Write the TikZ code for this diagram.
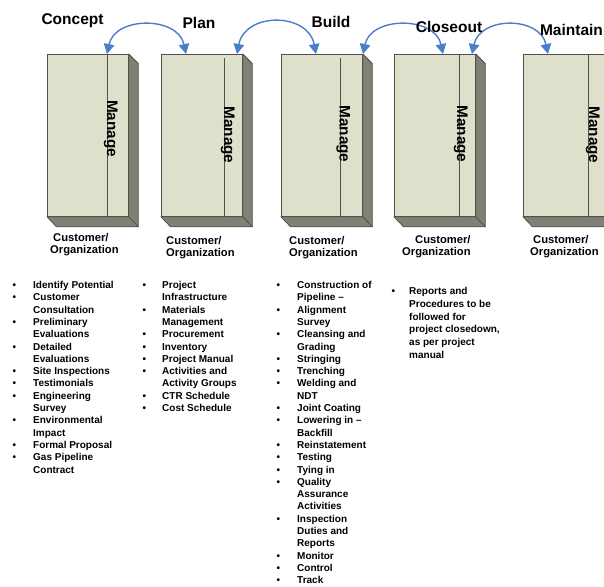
\documentclass[tikz,border=0pt]{standalone}
\usepackage{fontspec}
\setmainfont{Liberation Sans}
\usetikzlibrary{arrows.meta,calc}

\definecolor{facefill}{HTML}{DEE0CB}
\definecolor{sidefill}{HTML}{7F8175}
\definecolor{edgeline}{HTML}{50524A}
\definecolor{arcblue}{HTML}{4A7EC8}

\newcommand\stagefont{\fontsize{15.5}{18}\selectfont\bfseries}
\newcommand\managefont{\fontsize{15.3}{18}\selectfont\bfseries}
\newcommand\orgfont{\fontsize{11.2}{12}\selectfont\bfseries}
\newcommand\listfont{\fontsize{10}{12.3}\selectfont\bfseries}

\begin{document}
\begin{tikzpicture}[x=1pt,y=-1pt,
  frontface/.style={rectangle,draw=edgeline,fill=facefill,line width=0.8pt,
    inner sep=0pt,minimum width=81pt,minimum height=162pt,anchor=north west},
  sideface/.style={fill=sidefill,draw=edgeline,line width=0.8pt,line join=round},
  divider/.style={draw=edgeline,line width=0.8pt},
  managelabel/.style={font=\managefont,rotate=-90,anchor=base,inner sep=0pt},
  stagetitle/.style={font=\stagefont,anchor=base,inner sep=0pt},
  orglabel/.style={font=\orgfont,anchor=base west,inner sep=0pt},
  tasklist/.style={font=\listfont,anchor=base west,inner sep=0pt},
  linkarc/.style={draw=arcblue,line width=1.4pt,
    {Triangle[width=10.5pt,length=10pt]}-{Triangle[width=10.5pt,length=10pt]}}
]
\useasboundingbox (0,0) rectangle (604,586);
\clip (0,0) rectangle (604,586);

% stage boxes: front face, shaded right and bottom faces, divider, "Manage" strip
\foreach \n/\x/\dv/\dt/\mx/\my in {1/47/21/0/107/128.5, 2/161/18/4/224/135,
    3/281/22/4/339.5/134, 4/394/16/0/457/134, 5/523/16/0/589/135}{
  \node[frontface] (b\n) at (\x,54) {};
  \filldraw[sideface] (b\n.north east) -- ++(9.5,9.5)
    -- ($(b\n.south east)+(9.5,10)$) -- ($(b\n.south west)+(9.5,10)$)
    -- (b\n.south west) -- (b\n.south east) -- cycle;
  \draw[sideface] (b\n.south east) -- ++(9.5,10);
  \draw[divider] ($(b\n.north east)+(-\dv,\dt)$) -- ($(b\n.south east)+(-\dv,0)$);
  \node[managelabel] (m\n) at (\mx,\my) {Manage};
}

% arc end points on the box tops
\coordinate (e1) at ($(b1.north west)+(60,0)$);
\coordinate (e2) at ($(b2.north west)+(25,0)$);
\coordinate (e3) at ($(b2.north west)+(76,0)$);
\coordinate (e4) at ($(b3.north west)+(35,0)$);
\coordinate (e5) at ($(b3.north west)+(82,0)$);
\coordinate (e6) at ($(b4.north west)+(49,0)$);
\coordinate (e7) at ($(b4.north west)+(78,0)$);
\coordinate (e8) at ($(b5.north west)+(25,0)$);

\draw[linkarc] (e1) .. controls +(8,-38) and +(-8,-38) .. (e2);
\draw[linkarc] (e3) .. controls +(8,-42) and +(-8,-42) .. (e4);
\draw[linkarc] (e5) .. controls +(8,-38) and +(-8,-38) .. (e6);
\draw[linkarc] (e7) .. controls +(8,-38) and +(-8,-38) .. (e8);

% stage titles
\node[stagetitle] (t1) at (72.5,25) {Concept};
\node[stagetitle] (t2) at (199,29) {Plan};
\node[stagetitle] (t3) at (331,28) {Build};
\node[stagetitle] (t4) at (449,33) {Closeout};
\node[stagetitle] (t5) at (571.5,36) {Maintain};

% owner labels under the boxes
\node[orglabel] (c1) at (50,241) {\begin{tabular}[t]{@{}l@{}}\hspace*{3pt}Customer/\\Organization\end{tabular}};
\node[orglabel] (c2) at (166,244) {\begin{tabular}[t]{@{}l@{}}Customer/\\Organization\end{tabular}};
\node[orglabel] (c3) at (289,244) {\begin{tabular}[t]{@{}l@{}}Customer/\\Organization\end{tabular}};
\node[orglabel] (c4) at (402,243) {\begin{tabular}[t]{@{}l@{}}\hspace*{13pt}Customer/\\Organization\end{tabular}};
\node[orglabel] (c5) at (530,243) {\begin{tabular}[t]{@{}l@{}}\hspace*{3pt}Customer/\\Organization\end{tabular}};

% task lists
\node[tasklist] (l1) at (12.5,288.5) {\begin{tabular}[t]{@{}p{20.5pt}@{}l@{}}
\textbullet & Identify Potential\\
\textbullet & Customer\\
 & Consultation\\
\textbullet & Preliminary\\
 & Evaluations\\
\textbullet & Detailed\\
 & Evaluations\\
\textbullet & Site Inspections\\
\textbullet & Testimonials\\
\textbullet & Engineering\\
 & Survey\\
\textbullet & Environmental\\
 & Impact\\
\textbullet & Formal Proposal\\
\textbullet & Gas Pipeline\\
 & Contract
\end{tabular}};

\node[tasklist] (l2) at (142.5,288.5) {\begin{tabular}[t]{@{}p{19.5pt}@{}l@{}}
\textbullet & Project\\
 & Infrastructure\\
\textbullet & Materials\\
 & Management\\
\textbullet & Procurement\\
\textbullet & Inventory\\
\textbullet & Project Manual\\
\textbullet & Activities and\\
 & Activity Groups\\
\textbullet & CTR Schedule\\
\textbullet & Cost Schedule
\end{tabular}};

\node[tasklist] (l3) at (276.5,288.5) {\begin{tabular}[t]{@{}p{20.5pt}@{}l@{}}
\textbullet & Construction of\\
 & Pipeline –\\
\textbullet & Alignment\\
 & Survey\\
\textbullet & Cleansing and\\
 & Grading\\
\textbullet & Stringing\\
\textbullet & Trenching\\
\textbullet & Welding and\\
 & NDT\\
\textbullet & Joint Coating\\
\textbullet & Lowering in –\\
 & Backfill\\
\textbullet & Reinstatement\\
\textbullet & Testing\\
\textbullet & Tying in\\
\textbullet & Quality\\
 & Assurance\\
 & Activities\\
\textbullet & Inspection\\
 & Duties and\\
 & Reports\\
\textbullet & Monitor\\
\textbullet & Control\\
\textbullet & Track
\end{tabular}};

\node[tasklist,font=\fontsize{10}{12.8}\selectfont\bfseries] (l4) at (391.5,294.5) {\begin{tabular}[t]{@{}p{17.5pt}@{}l@{}}
\textbullet & Reports and\\
 & Procedures to be\\
 & followed for\\
 & project closedown,\\
 & as per project\\
 & manual
\end{tabular}};
\end{tikzpicture}
\end{document}
